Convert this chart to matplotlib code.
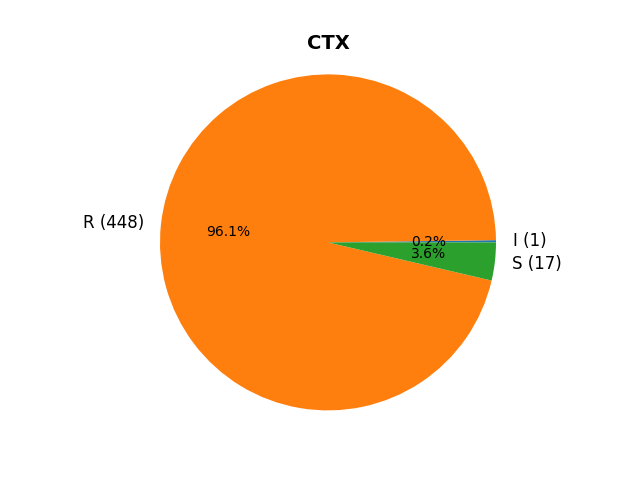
import matplotlib

matplotlib.use("Agg")
import matplotlib.pyplot as plt

categories = ["I", "R", "S"]
counts = [1, 448, 17]
title = "CTX"

labels = [f"{c} ({n})" for c, n in zip(categories, counts)]

fig, ax = plt.subplots(figsize=(6.4, 4.8))
wedges, texts, autotexts = ax.pie(counts, labels=labels, autopct="%1.1f%%",
                                  textprops={"fontsize": 12})
for t in autotexts:
    t.set_fontsize(10)
ax.axis("equal")
ax.set_title(title, fontsize=14, fontweight="bold")
fig.savefig("out.png", dpi=100)
